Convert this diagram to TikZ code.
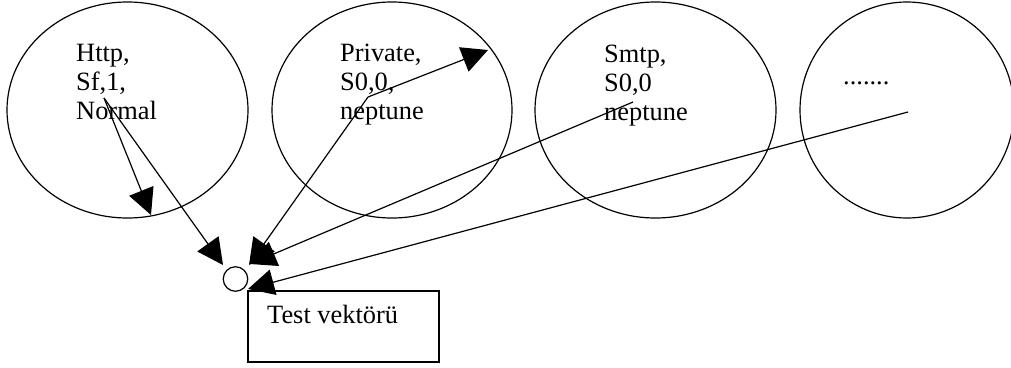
\documentclass[tikz,border=0pt]{standalone}
\usepackage{fontspec}
\setmainfont{Liberation Serif}
\usetikzlibrary{arrows.meta,shapes.geometric}
\begin{document}
\begin{tikzpicture}[x=1pt,y=-1pt,
  every node/.style={font=\fontsize{26.4}{29}\selectfont},
  oval/.style={draw, line width=1.2pt, ellipse, inner sep=0pt, minimum height=216pt},
  lbl/.style={anchor=base west, inner sep=0pt},
  conn/.style={line width=1.2pt, -{Triangle[length=26pt,width=26pt]}},
  plainconn/.style={line width=1.2pt}]
\useasboundingbox (0,0) rectangle (1011,367);
% ellipses
\node[oval, minimum width=241pt] (e1) at (127.5,110) {};
\node[oval, minimum width=240pt] (e2) at (392,110) {};
\node[oval, minimum width=241pt] (e3) at (655.5,110) {};
\node[oval, minimum width=214pt] (e4) at (907,110) {};
% texts
\node[lbl] (t1) at (76,61) {\begin{tabular}[t]{@{}l@{}}Http,\\Sf,1,\\Normal\end{tabular}};
\node[lbl] (t2) at (340,61) {\begin{tabular}[t]{@{}l@{}}Private,\\S0,0,\\neptune\end{tabular}};
\node[lbl] (t3) at (604,62) {\begin{tabular}[t]{@{}l@{}}Smtp,\\S0,0\\neptune\end{tabular}};
\node[lbl] (t4) at (843,84) {.......};
% circle and box
\node[draw, circle, line width=1.2pt, minimum size=24.5pt, inner sep=0pt] (c) at (235.5,279) {};
\draw[line width=1.2pt] (248,291) rectangle (439,362);
\node[lbl] (tv) at (267,323) {Test vektörü};
% connector endpoints
\coordinate (s1) at (104,98);
\coordinate (p1) at (151,215);
\coordinate (p2) at (223,265);
\coordinate (s3) at (368,97);
\coordinate (p3) at (488,50);
\coordinate (q3) at (249,265);
\coordinate (s4) at (633,102);
\coordinate (q4) at (250,264);
\coordinate (s5) at (908,112);
\coordinate (q5) at (248,289);
% connectors
\draw[conn] (s1) -- (p1);
\draw[conn] (s1) -- (p2);
\draw[conn] (s3) -- (p3);
\draw[conn] (s3) -- (q3);
\draw[conn] (s4) -- (q4);
\draw[conn] (s5) -- (q5);
\end{tikzpicture}
\end{document}
